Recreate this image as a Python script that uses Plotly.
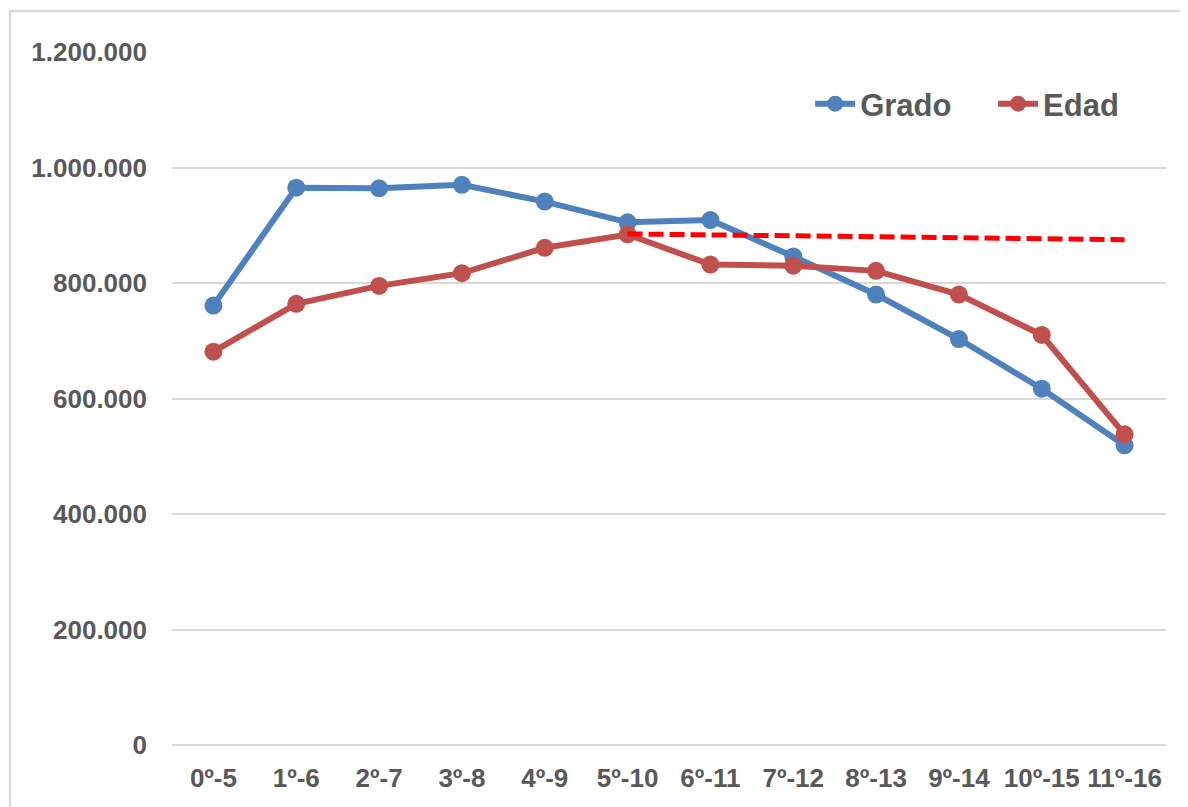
import plotly.graph_objects as go

categories = ["0º-5", "1º-6", "2º-7", "3º-8", "4º-9", "5º-10", "6º-11",
              "7º-12", "8º-13", "9º-14", "10º-15", "11º-16"]
grado = [761000, 965000, 964000, 970000, 941000, 905000, 909000,
         846000, 780000, 703000, 617000, 519000]
edad = [681000, 764000, 795000, 817000, 861000, 884000, 832000,
        830000, 821000, 780000, 710000, 538000]
ref_x = ["5º-10", "11º-16"]
ref_y = [885000, 875000]
y_ticks = [0, 200000, 400000, 600000, 800000, 1000000, 1200000]
y_tick_labels = ["0", "200.000", "400.000", "600.000", "800.000", "1.000.000", "1.200.000"]

FONT = "Liberation Sans, Arial, sans-serif"
BLUE = "#4F81BD"
RED = "#C0504D"
TXT = "#595959"

fig = go.Figure()
fig.add_trace(go.Scatter(
    x=categories, y=grado, name="Grado", mode="lines+markers",
    line=dict(color=BLUE, width=6), marker=dict(color=BLUE, size=18),
    legend="legend"))
fig.add_trace(go.Scatter(
    x=categories, y=edad, name="Edad", mode="lines+markers",
    line=dict(color=RED, width=6), marker=dict(color=RED, size=18),
    legend="legend2"))
fig.add_trace(go.Scatter(
    x=ref_x, y=ref_y, mode="lines", showlegend=False, hoverinfo="skip",
    line=dict(color="#FF0000", width=5, dash="15px,6px")))

legend_font = dict(size=31, color=TXT, family=FONT, weight="bold")
fig.update_layout(
    width=1180, height=799,
    margin=dict(l=164, r=22, t=44, b=62, autoexpand=False),
    paper_bgcolor="white", plot_bgcolor="white",
    font=dict(family=FONT, color=TXT, size=26),
    legend=dict(orientation="h", x=0.642, y=0.925, xanchor="left", yanchor="middle",
                font=legend_font, bgcolor="rgba(0,0,0,0)", itemwidth=40),
    legend2=dict(orientation="h", x=0.826, y=0.925, xanchor="left", yanchor="middle",
                 font=legend_font, bgcolor="rgba(0,0,0,0)", itemwidth=40),
    showlegend=True,
    shapes=[dict(type="path", xref="paper", yref="paper",
                 path="M -0.163,-0.2 L -0.163,1.0592 L 1.1,1.0592",
                 line=dict(color="#d9d9d9", width=2.5))],
)
fig.update_xaxes(
    type="category", categoryorder="array", categoryarray=categories,
    range=[-0.5, 11.5], showgrid=False, showline=False, zeroline=False,
    ticks="", tickangle=0, automargin=False,
    tickfont=dict(size=26, color=TXT, family=FONT, weight="bold"),
    ticklabelstandoff=15)
fig.update_yaxes(
    range=[0, 1200000], tickvals=y_ticks, ticktext=y_tick_labels,
    showgrid=True, gridcolor="#d9d9d9", gridwidth=1.5,
    zeroline=True, zerolinecolor="#d9d9d9", zerolinewidth=1.5,
    showline=False, ticks="", automargin=False,
    tickfont=dict(size=26, color=TXT, family=FONT, weight="bold"),
    ticklabelstandoff=24)

fig.write_html("out.html")
